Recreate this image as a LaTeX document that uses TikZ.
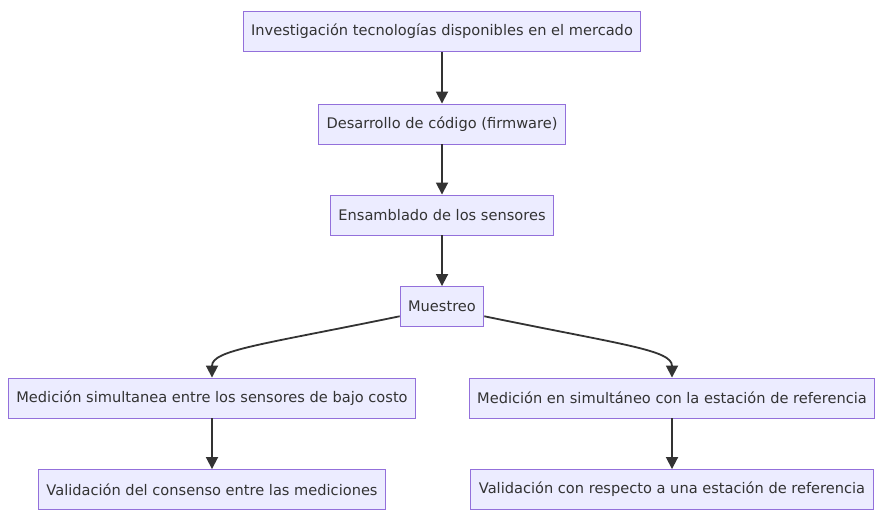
\documentclass[tikz,border=0pt]{standalone}
\usepackage{fontspec}
\setmainfont{DejaVu Sans}
\usetikzlibrary{arrows.meta}
\definecolor{boxfill}{HTML}{ECECFF}
\definecolor{boxline}{HTML}{9370DB}
\definecolor{ink}{HTML}{333333}

\begin{document}
\begin{tikzpicture}[x=1pt,y=-1pt,
    box/.style={draw=boxline, fill=boxfill, line width=0.9pt, text=ink,
        minimum height=40pt, inner xsep=8pt, font=\fontsize{14.6}{17}\selectfont},
    arrow/.style={draw=ink, line width=1.8pt, -{Triangle[length=12pt,width=12pt]}}]
    \useasboundingbox (0,0) rectangle (885,523);

    \node [box] (invest) at (442,31.5) {Investigación tecnologías disponibles en el mercado};
    \node [box] (firmware) at (442,124) {Desarrollo de código (firmware)};
    \node [box] (ensamble) at (442,215) {Ensamblado de los sensores};
    \node [box] (muestreo) at (442,306.5) {Muestreo};
    \node [box] (medbajo) at (212,398) {Medición simultanea entre los sensores de bajo costo};
    \node [box] (medref) at (672,398) {Medición en simultáneo con la estación de referencia};
    \node [box] (valcons) at (212,489.5) {Validación del consenso entre las mediciones};
    \node [box] (valref) at (672,489.5) {Validación con respecto a una estación de referencia};

    \draw [arrow] (invest) -- (firmware);
    \draw [arrow] (firmware) -- (ensamble);
    \draw [arrow] (ensamble) -- (muestreo);
    \draw [arrow] (muestreo.193) .. controls (260,345) and (212,350) .. (medbajo.north);
    \draw [arrow] (muestreo.-13) .. controls (624,345) and (672,350) .. (medref.north);
    \draw [arrow] (medbajo) -- (valcons);
    \draw [arrow] (medref) -- (valref);
\end{tikzpicture}
\end{document}
